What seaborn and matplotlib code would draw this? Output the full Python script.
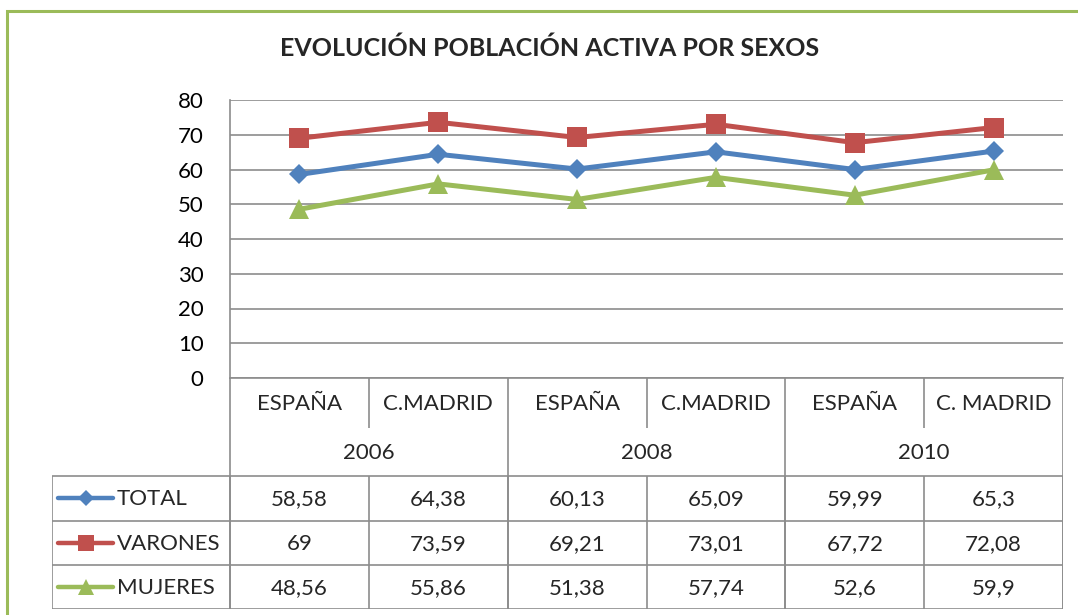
import numpy as np
import pandas as pd
import matplotlib
matplotlib.use("Agg")
import matplotlib.pyplot as plt
from matplotlib.patches import Rectangle
import seaborn as sns

# ---- data ----
categories = ["ESPAÑA", "C.MADRID", "ESPAÑA", "C.MADRID", "ESPAÑA", "C. MADRID"]
years = ["2006", "2008", "2010"]
series_names = ["TOTAL", "VARONES", "MUJERES"]
total = [58.58, 64.38, 60.13, 65.09, 59.99, 65.3]
varones = [69, 73.59, 69.21, 73.01, 67.72, 72.08]
mujeres = [48.56, 55.86, 51.38, 57.74, 52.6, 59.9]
value_labels = {
    "TOTAL": ["58,58", "64,38", "60,13", "65,09", "59,99", "65,3"],
    "VARONES": ["69", "73,59", "69,21", "73,01", "67,72", "72,08"],
    "MUJERES": ["48,56", "55,86", "51,38", "57,74", "52,6", "59,9"],
}
yticks = [0, 10, 20, 30, 40, 50, 60, 70, 80]
title = "EVOLUCIÓN POBLACIÓN ACTIVA POR SEXOS"

# ---- styling ----
colors = {"TOTAL": "#4F81BD", "VARONES": "#C0504D", "MUJERES": "#9BBB59"}
markers = {"TOTAL": "D", "VARONES": "s", "MUJERES": "^"}
msizes = {"TOTAL": 10, "VARONES": 14, "MUJERES": 14}
grid_c = "#8C8C8C"

sns.set_theme(style="white")
plt.rcParams["font.family"] = ["Lato", "DejaVu Sans"]

W, H = 1078, 615
fig = plt.figure(figsize=(W / 100, H / 100), dpi=100)

def fx(px):
    return px / W

def fy(py):
    return 1 - py / H

# plot area in pixels
L, R, T, B = 230, 1063, 100, 378
ax = fig.add_axes([fx(L), fy(B), fx(R) - fx(L), fy(T) - fy(B)])

pos = np.arange(len(categories))
df = pd.concat([
    pd.DataFrame({"pos": pos, "val": vals, "serie": name})
    for name, vals in zip(series_names, [total, varones, mujeres])
], ignore_index=True)

for name in series_names:
    sub = df[df["serie"] == name]
    sns.lineplot(data=sub, x="pos", y="val", ax=ax, color=colors[name],
                 marker=markers[name], markersize=msizes[name],
                 markeredgewidth=0, linewidth=3.6, legend=False, zorder=3)

ax.set_xlim(-0.5, len(categories) - 0.5)
ax.set_ylim(0, 80)
ax.set_yticks(yticks)
ax.set_yticklabels([str(v) for v in yticks], fontsize=16, color="black")
ax.tick_params(axis="y", length=0, pad=19)
ax.set_xticks([])
ax.set_xlabel("")
ax.set_ylabel("")
for v in yticks:
    ax.axhline(v, color=grid_c, lw=1.2, zorder=1)
for s in ["top", "right"]:
    ax.spines[s].set_visible(False)
for s in ["left", "bottom"]:
    ax.spines[s].set_color(grid_c)
    ax.spines[s].set_linewidth(1.2)

# ---- data table below ----
TL, TB = 52, 609
colw = (R - L) / len(categories)
tax = fig.add_axes([fx(TL), fy(TB), fx(R) - fx(TL), fy(B) - fy(TB)])
tax.set_xlim(-0.5 - (L - TL) / colw, len(categories) - 0.5)
tax.set_ylim(TB, B)
tax.axis("off")

row_cat = (B, 428)
row_year = (428, 476)
data_rows = [476, 520.5, 565, 609]
xl = -0.5 - (L - TL) / colw
lkw = dict(color=grid_c, lw=1.2, solid_capstyle="butt")

# inner separators in category row
for g in range(len(years)):
    tax.plot([2 * g + 0.5] * 2, [row_cat[0], row_cat[1]], **lkw)
# group separators
for g in range(len(years) + 1):
    tax.plot([2 * g - 0.5] * 2, [B, TB], **lkw)
# horizontal data-row lines
for yline in data_rows:
    tax.plot([xl, len(categories) - 0.5], [yline] * 2, **lkw)
# vertical lines in data rows
for c in range(len(categories) + 1):
    tax.plot([c - 0.5] * 2, [data_rows[0], TB], **lkw)
tax.plot([xl, xl], [data_rows[0], TB], **lkw)

for i, c in enumerate(categories):
    tax.text(i, sum(row_cat) / 2 + 1, c, ha="center", va="center", fontsize=16)
for g, yr in enumerate(years):
    tax.text(2 * g + 0.5, sum(row_year) / 2 + 1, yr, ha="center", va="center", fontsize=16)

for r, name in enumerate(series_names):
    yc = (data_rows[r] + data_rows[r + 1]) / 2 + 1
    for i, lab in enumerate(value_labels[name]):
        tax.text(i, yc, lab, ha="center", va="center", fontsize=16)
    # legend key
    k0 = xl + (58 - TL) / colw
    k1 = xl + (113 - TL) / colw
    tax.plot([k0, k1], [yc - 1, yc - 1], color=colors[name], lw=3.2,
             solid_capstyle="round")
    tax.plot([(k0 + k1) / 2], [yc - 1], marker=markers[name], color=colors[name],
             markersize=msizes[name] * 0.85, markeredgewidth=0)
    tax.text(xl + (117 - TL) / colw, yc, name, ha="left", va="center", fontsize=16)

# ---- title ----
fig.text(fx(550), fy(48), title, ha="center", va="center", fontsize=18,
         fontweight="bold")

# ---- green border ----
fig.patches.append(Rectangle((fx(7), fy(H + 20)), fx(W + 20) - fx(7), fy(11) - fy(H + 20),
                             transform=fig.transFigure, fill=False,
                             edgecolor="#9BBB59", lw=2.2, zorder=10))

fig.savefig("out.png", dpi=100, facecolor="white")
